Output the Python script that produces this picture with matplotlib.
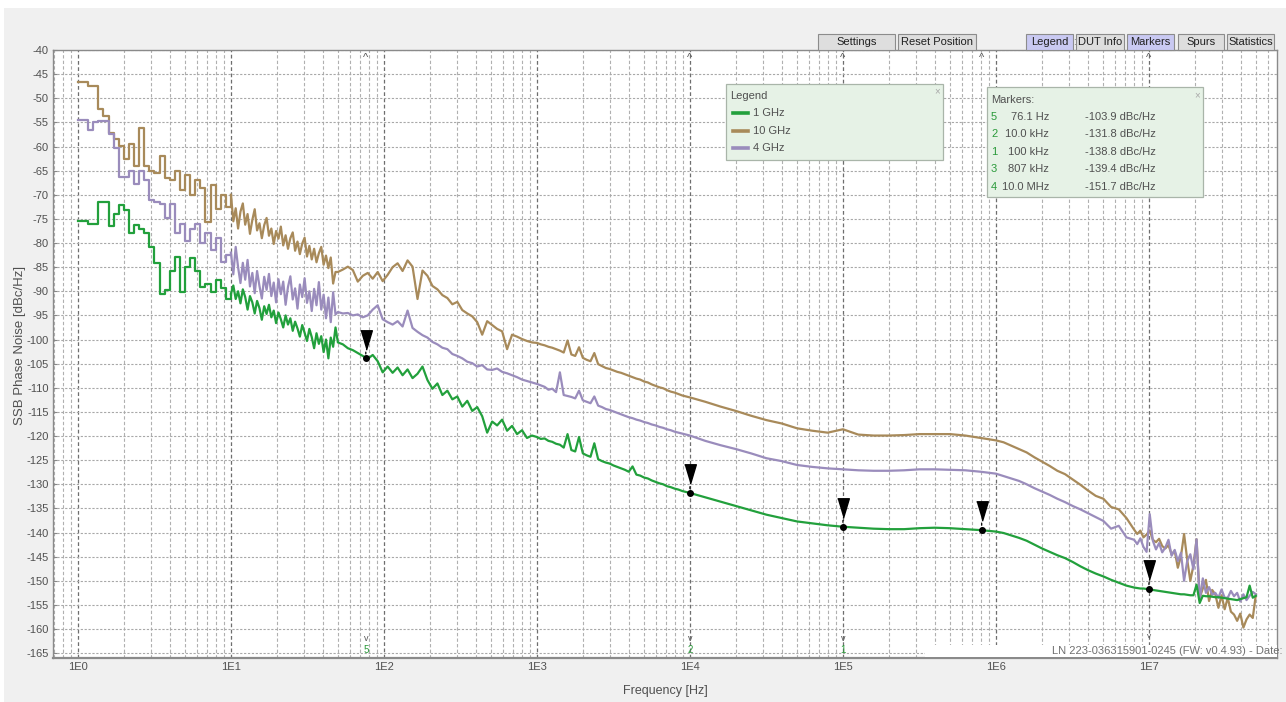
import numpy as np
import matplotlib
matplotlib.use("Agg")
import matplotlib.pyplot as plt
import matplotlib.transforms as mtransforms
from matplotlib.patches import Rectangle
from matplotlib.lines import Line2D
from matplotlib.ticker import FixedLocator, LogLocator, NullFormatter

# ---- data -------------------------------------------------------------
# analyzer frequency bins (log spaced, resolution changes per segment)
f_seg_a = np.geomspace(1, 10, 30, endpoint=False)
f_seg_b = np.geomspace(10, 50, 45, endpoint=False)
f_seg_c = np.geomspace(50, 1e3, 40, endpoint=False)
f_seg_d1 = np.geomspace(1e3, 1e4, 40, endpoint=False)
f_seg_d2 = np.geomspace(1e4, 1e6, 20, endpoint=False)
f_seg_e1 = np.geomspace(1e6, 8e6, 18, endpoint=False)
f_seg_e2 = np.geomspace(8e6, 5e7, 40)

# 1 GHz trace [dBc/Hz]
g_a = [-75.5, -75.5, -76.0, -76.0, -71.6, -71.6, -76.4, -74.0, -72.2, -73.2,
       -78.0, -76.3, -77.0, -78.0, -80.8, -84.2, -90.5, -89.8, -85.7, -83.0,
       -90.2, -85.0, -83.2, -85.7, -89.2, -88.4, -90.2, -87.7, -89.4, -91.6]
g_b = [-90.5, -88.8, -91.6, -90.0, -92.5, -89.6, -91.2, -93.8, -91.0, -92.3,
       -94.6, -92.0, -93.5, -95.9, -93.1, -94.7, -92.8, -95.4, -94.0, -96.6,
       -94.4, -95.8, -97.5, -95.0, -96.9, -95.6, -98.2, -96.3, -97.7, -99.4,
       -97.0, -98.6, -100.3, -97.8, -99.5, -101.8, -98.7, -100.9, -99.3, -102.6,
       -100.0, -103.9, -99.6, -101.5, -97.5]
g_c = [-100.6, -101.0, -101.8, -102.2, -102.8, -103.4, -104.0, -103.2, -104.5, -106.8,
       -105.6, -106.9, -105.8, -107.4, -106.2, -108.0, -107.1, -105.6, -108.4, -110.2,
       -109.1, -111.5, -110.6, -112.4, -111.8, -113.9, -112.7, -114.8, -114.0, -115.9,
       -119.3, -117.0, -117.8, -116.6, -118.9, -117.9, -119.6, -118.8, -120.4, -119.9]
g_d1 = [-120.2, -120.6, -120.5, -121.0, -121.2, -121.6, -121.8, -122.4, -119.6, -122.9,
        -123.2, -120.2, -123.6, -124.0, -124.3, -121.5, -124.8, -125.2, -125.5, -125.7,
        -126.1, -126.4, -126.7, -127.0, -127.4, -126.3, -128.0, -128.2, -128.6, -128.8,
        -129.2, -129.5, -129.8, -130.0, -130.4, -130.6, -130.9, -131.1, -131.4, -131.6]
g_d2 = [-131.8, -132.7, -133.6, -134.5, -135.4, -136.3, -137.0, -137.7, -138.1, -138.5,
        -138.8, -139.0, -139.2, -139.3, -139.3, -139.1, -139.0, -139.1, -139.3, -139.5]
g_e1 = [-139.8, -140.1, -140.6, -141.1, -141.7, -142.5, -143.3, -144.0, -144.7, -145.3,
        -146.1, -147.0, -147.8, -148.5, -149.1, -149.8, -150.4, -151.0]
g_e2 = [-151.4, -151.5, -151.6, -151.6, -151.7, -151.8, -151.9, -152.0, -152.1, -152.2,
        -152.3, -152.4, -152.5, -152.6, -152.7, -152.8, -152.8, -152.9, -153.0, -153.0,
        -150.8, -154.6, -153.1, -153.2, -153.2, -153.3, -153.4, -153.4, -153.5, -153.6,
        -153.7, -153.8, -153.9, -154.0, -153.8, -153.6, -153.4, -151.0, -153.5, -153.1]

# 10 GHz trace
b_a = [-46.7, -46.7, -47.5, -47.5, -52.3, -53.7, -57.3, -58.5, -59.9, -62.5,
       -59.5, -64.0, -56.1, -64.0, -65.0, -65.5, -62.0, -66.5, -67.0, -65.0,
       -69.0, -66.0, -70.0, -67.0, -68.5, -75.6, -68.0, -73.0, -70.0, -72.5]
b_b = [-70.0, -75.5, -72.8, -77.0, -73.5, -71.8, -76.2, -74.0, -78.1, -75.2,
       -73.0, -77.4, -75.9, -79.0, -76.3, -74.8, -78.5, -77.0, -80.2, -77.5,
       -79.1, -76.6, -80.5, -78.4, -81.2, -79.0, -77.8, -81.6, -79.7, -82.3,
       -80.1, -78.9, -82.8, -80.6, -83.4, -81.2, -84.0, -82.1, -80.8, -84.5,
       -82.6, -85.2, -83.0, -88.4, -86.0]
b_c = [-86.0, -85.5, -84.9, -85.6, -88.0, -86.8, -86.2, -87.4, -86.0, -87.9,
       -86.6, -85.0, -84.2, -85.8, -83.6, -84.9, -91.6, -85.7, -86.8, -88.9,
       -89.6, -90.8, -91.4, -92.7, -92.2, -93.9, -94.6, -95.2, -96.4, -99.0,
       -96.2, -97.0, -97.8, -98.3, -102.0, -99.0, -99.4, -99.9, -100.3, -100.6]
b_d1 = [-100.7, -101.0, -101.2, -101.5, -101.7, -102.0, -102.3, -102.7, -100.2, -103.1,
        -103.4, -101.6, -103.8, -104.2, -104.5, -102.8, -105.1, -105.5, -105.9, -106.1,
        -106.4, -106.7, -106.9, -107.2, -107.5, -107.8, -108.1, -108.3, -108.7, -108.9,
        -109.3, -109.6, -109.9, -110.1, -110.5, -110.8, -111.0, -111.3, -111.6, -111.8]
b_d2 = [-112.0, -112.9, -113.9, -114.8, -115.8, -116.7, -117.4, -118.4, -118.9, -119.3,
        -118.6, -119.7, -119.9, -119.9, -119.8, -119.6, -119.6, -119.6, -119.9, -120.4]
b_e1 = [-120.9, -121.3, -122.0, -122.7, -123.4, -124.4, -125.3, -126.2, -127.2, -127.9,
        -129.0, -130.1, -131.3, -132.4, -133.0, -134.7, -135.2, -137.0]
b_e2 = [-139.4, -140.3, -139.6, -141.0, -140.4, -139.6, -141.5, -142.0, -141.3, -142.8,
        -143.3, -142.6, -144.5, -143.8, -147.3, -144.9, -140.3, -145.6, -150.0, -146.8,
        -141.4, -153.5, -151.6, -149.8, -154.2, -151.9, -152.8, -155.6, -153.0, -155.9,
        -153.5, -156.4, -157.0, -158.3, -156.8, -159.7, -158.0, -157.0, -157.7, -152.8]

# 4 GHz trace
p_a = [-54.5, -54.5, -56.6, -55.0, -54.7, -54.7, -57.5, -60.4, -66.3, -66.3,
       -65.0, -67.8, -65.0, -67.0, -71.0, -71.5, -72.0, -74.9, -72.0, -78.0,
       -76.0, -79.5, -77.0, -76.0, -80.0, -78.0, -81.5, -79.0, -84.0, -82.5]
p_b = [-82.0, -86.5, -80.8, -85.0, -88.3, -84.1, -87.6, -83.5, -89.0, -86.2,
       -90.4, -85.8, -88.9, -91.5, -87.0, -89.7, -86.4, -91.0, -88.2, -92.3,
       -87.5, -90.6, -88.0, -92.8, -89.1, -86.9, -91.7, -89.4, -93.6, -88.6,
       -91.2, -87.3, -92.4, -90.0, -94.1, -89.5, -92.9, -88.1, -93.8, -90.7,
       -95.6, -91.3, -96.4, -90.2, -94.8]
p_c = [-94.3, -94.6, -94.5, -95.0, -94.8, -95.4, -95.0, -93.8, -92.9, -95.8,
       -96.4, -96.9, -96.2, -97.3, -94.0, -97.6, -98.4, -99.1, -99.6, -100.5,
       -101.0, -101.7, -102.0, -103.0, -103.4, -103.9, -104.6, -104.9, -105.6, -105.3,
       -106.2, -106.3, -106.0, -106.7, -107.0, -107.4, -107.8, -108.3, -108.6, -108.9]
p_d1 = [-109.2, -109.5, -109.8, -110.4, -110.2, -110.9, -106.8, -111.5, -111.7, -111.9,
        -112.2, -110.6, -112.6, -112.9, -113.2, -111.8, -113.7, -114.0, -114.4, -114.6,
        -114.9, -115.2, -115.5, -115.8, -116.1, -116.3, -116.6, -116.8, -117.1, -117.3,
        -117.6, -117.8, -118.1, -118.3, -118.6, -118.8, -119.1, -119.3, -119.5, -119.7]
p_d2 = [-119.9, -121.0, -121.9, -122.7, -123.6, -124.6, -125.2, -126.0, -126.4, -126.7,
        -126.9, -127.1, -127.2, -127.2, -127.1, -126.9, -126.9, -127.0, -127.1, -127.4]
p_e1 = [-127.8, -128.3, -128.8, -129.3, -130.0, -130.8, -131.5, -132.2, -133.0, -133.7,
        -134.5, -135.2, -136.0, -136.8, -137.6, -139.2, -138.6, -141.0]
p_e2 = [-141.5, -142.4, -141.2, -143.0, -144.0, -136.2, -141.7, -143.5, -142.2, -144.1,
        -143.1, -141.5, -144.8, -143.6, -145.9, -144.2, -150.0, -145.9, -144.5, -147.6,
        -141.4, -154.0, -149.5, -152.5, -151.3, -152.9, -152.5, -153.5, -151.8, -153.5,
        -153.5, -152.1, -153.2, -152.5, -154.3, -152.8, -154.0, -153.1, -152.3, -152.8]

freq = np.concatenate([f_seg_a, f_seg_b, f_seg_c, f_seg_d1, f_seg_d2, f_seg_e1, f_seg_e2])
pn_1g = np.concatenate([g_a, g_b, g_c, g_d1, g_d2, g_e1, g_e2])
pn_10g = np.concatenate([b_a, b_b, b_c, b_d1, b_d2, b_e1, b_e2])
pn_4g = np.concatenate([p_a, p_b, p_c, p_d1, p_d2, p_e1, p_e2])

series_names = ["1 GHz", "10 GHz", "4 GHz"]
series_colors = ["#22a03c", "#a88a5a", "#9a8cbc"]

# markers on the 1 GHz trace
mk_ids = ["5", "2", "1", "3", "4"]
mk_freq = [76.1, 10.0e3, 100e3, 807e3, 10.0e6]
mk_val = [-103.9, -131.8, -138.8, -139.4, -151.7]
mk_freq_txt = ["76.1 Hz", "10.0 kHz", "100 kHz", "807 kHz", "10.0 MHz"]

buttons = [("Settings", 818, 895, False), ("Reset Position", 898, 976, False),
           ("Legend", 1026, 1073, True), ("DUT Info", 1076, 1124, False),
           ("Markers", 1127, 1174, True), ("Spurs", 1178, 1224, False),
           ("Statistics", 1227, 1274, False)]

# ---- figure -----------------------------------------------------------
W, H = 1286, 702
plt.rcParams['font.family'] = ['Liberation Sans', 'DejaVu Sans']
plt.rcParams['axes.unicode_minus'] = False
TXT = "#505050"


def fx(x):
    return x / W


def fy(y):
    return 1 - y / H


fig = plt.figure(figsize=(W / 100, H / 100), dpi=100)
fig.patch.set_facecolor("white")
fig.patches.append(Rectangle((fx(4), 0), 1, fy(8), transform=fig.transFigure,
                             facecolor="#f0f0f0", edgecolor="none", zorder=-10))

ax = fig.add_axes([fx(53), fy(658), (1277 - 53) / W, (658 - 50) / H])
ax.set_facecolor("white")

# coarse low-frequency bins are drawn as steps, the rest as a plain trace
n_lo = len(f_seg_a)
order = [(pn_10g, 1), (pn_4g, 2), (pn_1g, 0)]
for vals, k in order:
    col = series_colors[k]
    ax.plot(freq[:n_lo + 1], vals[:n_lo + 1], drawstyle="steps-post", color=col, lw=1.6, zorder=3)
    ax.plot(freq[n_lo:], vals[n_lo:], color=col, lw=1.6, zorder=3, label=series_names[k])

ax.set_xscale("log")
ax.set_xlim(0.687, 6.87e7)
ax.set_ylim(-166.0, -40)

ax.xaxis.set_major_locator(FixedLocator([10.0 ** k for k in range(8)]))
ax.set_xticklabels(["1E%d" % k for k in range(8)])
ax.xaxis.set_minor_locator(LogLocator(base=10, subs=np.arange(2, 10), numticks=30))
ax.xaxis.set_minor_formatter(NullFormatter())
ax.set_yticks(np.arange(-165, -39, 5))
ax.set_yticklabels(["%d" % v for v in np.arange(-165, -39, 5)])

ax.tick_params(axis="x", which="both", length=0, pad=3, labelsize=8, labelcolor=TXT)
ax.tick_params(axis="y", which="both", direction="in", length=3, pad=3, labelsize=8,
               labelcolor=TXT, color="#888888")

ax.grid(True, axis="x", which="major", color="#6e6e6e", lw=0.9, ls=(0, (3, 2)))
ax.grid(True, axis="x", which="minor", color="#b0b0b0", lw=0.8, ls=(0, (3, 2)))
ax.grid(True, axis="y", which="major", color="#a8a8a8", lw=0.8, ls=(0, (2, 1.5)))
ax.set_axisbelow(True)

for side in ["top", "right", "left"]:
    ax.spines[side].set_color("#8a8a8a")
    ax.spines[side].set_linewidth(1.0)
ax.spines["bottom"].set_color("#8a8a8a")
ax.spines["bottom"].set_linewidth(1.6)

ax.set_xlabel("Frequency [Hz]", fontsize=9, color=TXT, labelpad=9)
fig.text(fx(20), fy(345), "SSB Phase Noise [dBc/Hz]", rotation=90, ha="center", va="center",
         fontsize=9.5, color=TXT)

# marker symbols
tri_tr = mtransforms.offset_copy(ax.transData, fig=fig, x=0, y=18.5, units="dots")
ax.plot(mk_freq, mk_val, ls="none", marker=[(-6, 10), (6, 10), (0, -10)], ms=14,
        color="black", transform=tri_tr, zorder=5)
ax.plot(mk_freq, mk_val, ls="none", marker="o", ms=4, color="black", zorder=6)
for f, v in zip(mk_freq, mk_val):
    ax.annotate("", xy=(f, v), xytext=(0, 6.5), textcoords="offset points",
                arrowprops=dict(arrowstyle="-", color="black", lw=0.9, ls=(0, (1.5, 1.5))),
                zorder=5)

# marker carets at top and bottom of the plot
for mid, f in zip(mk_ids, mk_freq):
    ax.annotate("^", xy=(f, -40), xytext=(0, -2), textcoords="offset points",
                ha="center", va="top", fontsize=8, color="#555555")
    if f < 5e5:
        ax.annotate("v", xy=(f, -166), xytext=(0, 14), textcoords="offset points",
                    ha="center", va="center", fontsize=6.5, color="#555555")
        ax.annotate(mid, xy=(f, -166), xytext=(0, 5.5), textcoords="offset points",
                    ha="center", va="center", fontsize=7, color="#2a9a3a")
    elif f > 5e6:
        # only the caret peeks out above the info line
        ax.annotate("v", xy=(f, -166), xytext=(0, 15.5), textcoords="offset points",
                    ha="center", va="center", fontsize=6, color="#555555")

# info line at the bottom right
fig.patches.append(Rectangle((fx(925), fy(657)), (1277 - 925) / W, 12 / H,
                             transform=fig.transFigure, facecolor="white", edgecolor="none", zorder=2))
fig.text(fx(1282), fy(651), "LN 223-036315901-0245 (FW: v0.4.93) - Date:", ha="right",
         va="center", fontsize=8, color="#707070", zorder=3)

# buttons
for label, x0, x1, active in buttons:
    fig.patches.append(Rectangle((fx(x0), fy(50)), (x1 - x0) / W, 16 / H, transform=fig.transFigure,
                                 facecolor="#c9c9f2" if active else "#dedede",
                                 edgecolor="#8c8c8c", lw=0.8, zorder=4))
    fig.text(fx((x0 + x1) / 2), fy(42), label, ha="center", va="center", fontsize=8,
             color="#202020", zorder=5)
fig.text(fx(1074.5), fy(42), ":", ha="center", va="center", fontsize=7, color="#606060", zorder=5)

# legend panel
BOX_FC, BOX_EC = "#e6f2e6", "#a9b5a9"
fig.patches.append(Rectangle((fx(726), fy(160)), (943 - 726) / W, 76 / H, transform=fig.transFigure,
                             facecolor=BOX_FC, edgecolor=BOX_EC, lw=0.9, zorder=4))
fig.text(fx(730), fy(96), "Legend", ha="left", va="center", fontsize=8, color=TXT, zorder=5)
fig.text(fx(937), fy(91), "\u00d7", ha="center", va="center", fontsize=7, color="#aaaaaa", zorder=5)
for k, (name, col) in enumerate(zip(series_names, series_colors)):
    yy = 113 + 17.5 * k
    fig.lines.append(Line2D([fx(733), fx(748)], [fy(yy), fy(yy)], transform=fig.transFigure,
                            color=col, lw=2.6, zorder=5))
    fig.text(fx(753), fy(yy), name, ha="left", va="center", fontsize=8, color=TXT, zorder=5)

# markers panel
fig.patches.append(Rectangle((fx(987), fy(197)), (1203 - 987) / W, 110 / H, transform=fig.transFigure,
                             facecolor=BOX_FC, edgecolor=BOX_EC, lw=0.9, zorder=4))
fig.text(fx(991), fy(100), "Markers:", ha="left", va="center", fontsize=8, color=TXT, zorder=5)
fig.text(fx(1197), fy(95), "\u00d7", ha="center", va="center", fontsize=7, color="#aaaaaa", zorder=5)
for k, (mid, ftxt, v) in enumerate(zip(mk_ids, mk_freq_txt, mk_val)):
    yy = 117 + 17.4 * k
    fig.text(fx(991), fy(yy), mid, ha="left", va="center", fontsize=8, color="#2a9a3a", zorder=5)
    fig.text(fx(1049), fy(yy), ftxt, ha="right", va="center", fontsize=8, color=TXT, zorder=5)
    fig.text(fx(1085), fy(yy), "%.1f dBc/Hz" % v, ha="left", va="center", fontsize=8,
             color=TXT, zorder=5)

fig.savefig("out.png", dpi=100)
